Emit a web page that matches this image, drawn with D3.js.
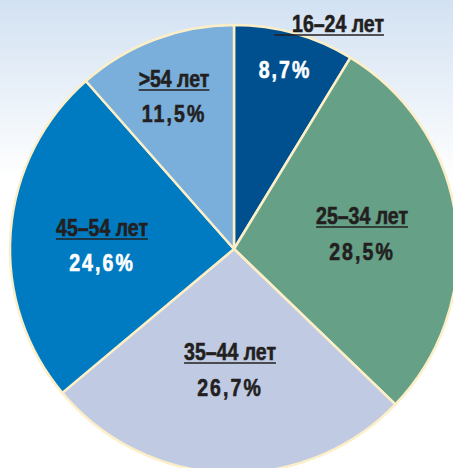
<!DOCTYPE html>
<html>
<head>
<meta charset="utf-8">
<script src="https://cdn.jsdelivr.net/npm/d3@7"></script>
<style>
body { margin: 0; padding: 0; background: #fff; }
text { font-family: "Liberation Sans", Arial, sans-serif; font-weight: bold; }
</style>
</head>
<body>
<div id="chart"></div>
<script>
var width = 453;
var height = 468;

// данные
var groups = ["16–24 лет", "25–34 лет", "35–44 лет", "45–54 лет", ">54 лет"];
var shares = [8.7, 28.5, 26.7, 24.6, 11.5];
var shareLabels = ["8,7%", "28,5%", "26,7%", "24,6%", "11,5%"];

var colors = ["#00508f", "#65a087", "#c0cae3", "#007bc2", "#7aaedb"];
var pctColors = ["#fff", "#231f20", "#231f20", "#fff", "#231f20"];
// смещения подписей от центра: [x подписи, y подписи, x процента, y процента]
var labelAt = [[104, -217, 51, -171], [128, -25, 128, 11], [-4, 111, -4, 147], [-132, -13, -132, 22], [-60, -162, -60, -127]];

var cx = 234, cy = 249, r = 224;
var sx = 0.83;

var svg = d3.select("#chart")
	.append("svg")
	.attr("width", width)
	.attr("height", height);

var grad = svg.append("defs").append("linearGradient")
	.attr("id", "bg")
	.attr("x1", 0).attr("x2", 0).attr("y1", 0).attr("y2", 1);
grad.append("stop").attr("offset", "0%").attr("stop-color", "#d2e1f2");
grad.append("stop").attr("offset", "38%").attr("stop-color", "#ffffff");
grad.append("stop").attr("offset", "100%").attr("stop-color", "#ffffff");

svg.append("rect").attr("width", width).attr("height", height).attr("fill", "url(#bg)");

var pie = d3.pie().sort(null).value(function(d) { return d; });
var arc = d3.arc().innerRadius(0).outerRadius(r);

var g = svg.append("g").attr("transform", "translate(" + cx + "," + cy + ")");

g.selectAll("path")
	.data(pie(shares))
	.enter().append("path")
	.attr("d", arc)
	.attr("fill", function(d, i) { return colors[i]; })
	.attr("stroke", "#fcefc8")
	.attr("stroke-width", 2.5)
	.attr("stroke-linejoin", "round");

//подписи групп
for (var i = 0; i < groups.length; i++) {
	var lg = g.append("g")
		.attr("transform", "translate(" + labelAt[i][0] + "," + labelAt[i][1] + ") scale(" + sx + ",1)");
	var t = lg.append("text")
		.attr("text-anchor", "middle")
		.attr("font-size", 23.5)
		.attr("fill", "#231f20")
		.attr("stroke", "#231f20")
		.attr("stroke-width", 0.6)
		.text(groups[i]);
	var bb = t.node().getBBox();
	var x1 = bb.x;
	if (i == 0) x1 = bb.x - 18 / sx;
	lg.append("line")
		.attr("x1", x1)
		.attr("x2", bb.x + bb.width)
		.attr("y1", 3)
		.attr("y2", 3)
		.attr("stroke", "#231f20")
		.attr("stroke-width", 1.6);

	g.append("g")
		.attr("transform", "translate(" + labelAt[i][2] + "," + labelAt[i][3] + ") scale(" + sx + ",1)")
		.append("text")
		.attr("text-anchor", "middle")
		.attr("font-size", 23.5)
		.attr("letter-spacing", 2.5)
		.attr("fill", pctColors[i])
		.attr("stroke", pctColors[i])
		.attr("stroke-width", 0.6)
		.text(shareLabels[i]);
}
</script>
</body>
</html>
